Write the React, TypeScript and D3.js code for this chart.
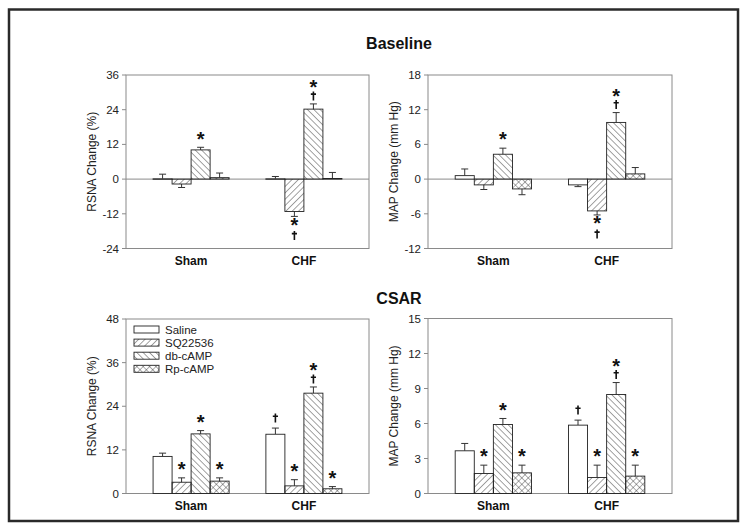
import React from "react";
import * as d3 from "d3";

const groups = ["Sham", "CHF"];
const seriesNames = ["Saline", "SQ22536", "db-cAMP", "Rp-cAMP"];

// order: Sham (Saline, SQ22536, db-cAMP, Rp-cAMP), CHF (same)
const rsnaBaseMean = [0.1, -1.7, 10.1, 0.5, 0.1, -11.2, 24.2, 0.2];
const rsnaBaseErr = [1.6, 1.2, 0.9, 1.6, 0.8, 1.7, 1.8, 2.1];
const rsnaBaseStar = [0, 0, 1, 0, 0, 1, 1, 0];
const rsnaBaseDagger = [0, 0, 0, 0, 0, 1, 1, 0];
const rsnaBaseTicks = [-24, -12, 0, 12, 24, 36];

const mapBaseMean = [0.6, -1.0, 4.3, -1.7, -1.0, -5.5, 9.8, 0.9];
const mapBaseErr = [1.15, 0.8, 1.05, 1.0, 0.3, 0.7, 1.7, 1.1];
const mapBaseStar = [0, 0, 1, 0, 0, 1, 1, 0];
const mapBaseDagger = [0, 0, 0, 0, 0, 1, 1, 0];
const mapBaseTicks = [-12, -6, 0, 6, 12, 18];

const rsnaCsarMean = [10.2, 3.1, 16.4, 3.4, 16.3, 2.1, 27.6, 1.3];
const rsnaCsarErr = [0.9, 1.2, 0.9, 0.9, 1.7, 1.7, 1.7, 0.6];
const rsnaCsarStar = [0, 1, 1, 1, 0, 1, 1, 1];
const rsnaCsarDagger = [0, 0, 0, 0, 1, 0, 1, 0];
const rsnaCsarTicks = [0, 12, 24, 36, 48];

const mapCsarMean = [3.66, 1.71, 5.91, 1.77, 5.86, 1.37, 8.49, 1.49];
const mapCsarErr = [0.63, 0.72, 0.52, 0.66, 0.43, 1.06, 1.02, 0.94];
const mapCsarStar = [0, 1, 1, 1, 0, 1, 1, 1];
const mapCsarDagger = [0, 0, 0, 0, 1, 0, 1, 0];
const mapCsarTicks = [0, 3, 6, 9, 12, 15];

const FONT = "Arial, 'Liberation Sans', Helvetica, sans-serif";
const fills = ["#ffffff", "url(#pSlash)", "url(#pBack)", "url(#pCross)"];

function Panel(props: any) {
  const { x0, x1, y0, y1, ticks, mean, err, star, dagger, yLabel, zero, legend } = props;
  const y = d3.scaleLinear().domain([ticks[0], ticks[ticks.length - 1]]).range([y1, y0]);
  const xg = d3.scaleBand().domain(groups).range([x0, x1]).paddingInner(0.326).paddingOuter(0.24);
  const xs = d3.scaleBand().domain(seriesNames).range([0, xg.bandwidth()]);
  const bars: any[] = [];
  groups.forEach((g, gi) => {
    seriesNames.forEach((s, si) => {
      const i = gi * 4 + si;
      const v = mean[i];
      const e = err[i];
      const bx = (xg(g) as number) + (xs(s) as number);
      const bw = xs.bandwidth();
      const cx = bx + bw / 2;
      const top = y(Math.max(0, v));
      const bot = y(Math.min(0, v));
      const end = v >= 0 ? y(v + e) : y(v - e);
      const base = y(v);
      const ann: any[] = [];
      if (v >= 0) {
        if (star[i] && dagger[i]) {
          ann.push({ t: "*", c: end - 18 });
          ann.push({ t: "d", c: end - 8 });
        } else if (star[i]) ann.push({ t: "*", c: end - 10 });
        else if (dagger[i]) ann.push({ t: "d", c: end - 10 });
      } else {
        if (star[i]) ann.push({ t: "*", c: end + 7 });
        if (dagger[i]) ann.push({ t: "d", c: end + 19 });
      }
      bars.push(
        <g key={i}>
          <line x1={cx} x2={cx} y1={base} y2={end} stroke="#333" strokeWidth={1} />
          <line x1={cx - 3.5} x2={cx + 3.5} y1={end} y2={end} stroke="#333" strokeWidth={1} />
          <rect x={bx} y={top} width={bw} height={Math.max(0.5, bot - top)} fill={fills[si]} stroke="#222" strokeWidth={0.9} />
          {ann.map((a, k) =>
            a.t === "*" ? (
              <text key={k} x={cx} y={a.c + 8.3} textAnchor="middle" fontSize={20} fontWeight="bold" fontFamily={FONT} fill="#111">*</text>
            ) : (
              <path key={k} d={`M${cx},${a.c - 4.5}V${a.c + 4.5}M${cx - 2.6},${a.c - 1.8}H${cx + 2.6}`} stroke="#111" strokeWidth={1.6} fill="none" />
            )
          )}
        </g>
      );
    });
  });
  return (
    <g>
      <rect x={x0} y={y0} width={x1 - x0} height={y1 - y0} fill="none" stroke="#8a8a8a" strokeWidth={1} />
      {zero && <line x1={x0} x2={x1} y1={y(0)} y2={y(0)} stroke="#8a8a8a" strokeWidth={1} />}
      {ticks.map((t: number) => (
        <g key={t}>
          <line x1={x0 - 4} x2={x0} y1={y(t)} y2={y(t)} stroke="#8a8a8a" strokeWidth={1} />
          <text x={x0 - 7} y={y(t) + 4} textAnchor="end" fontSize={11.5} fontFamily={FONT} fill="#222">{t}</text>
        </g>
      ))}
      <text transform={`translate(${x0 - 30},${(y0 + y1) / 2}) rotate(-90)`} textAnchor="middle" fontSize={12} fontFamily={FONT} fill="#222">{yLabel}</text>
      {groups.map((g) => (
        <text key={g} x={(xg(g) as number) + xg.bandwidth() / 2} y={y1 + 16.5} textAnchor="middle" fontSize={12} fontWeight="bold" fontFamily={FONT} fill="#111">{g}</text>
      ))}
      {bars}
      {legend &&
        seriesNames.map((s, si) => (
          <g key={s}>
            <rect x={x0 + 8} y={y0 + 7 + si * 13.1} width={25} height={7} fill={fills[si]} stroke="#222" strokeWidth={0.9} />
            <text x={x0 + 39} y={y0 + 14.5 + si * 13.1} fontSize={11.5} fontFamily={FONT} fill="#222">{s}</text>
          </g>
        ))}
    </g>
  );
}

export default function App() {
  return (
    <svg width={748} height={531} style={{ position: "absolute", left: 0, top: 0, background: "#fff" }}>
      <defs>
        <pattern id="pSlash" patternUnits="userSpaceOnUse" width={4.5} height={4.5} patternTransform="rotate(45)">
          <line x1={0} y1={0} x2={0} y2={4.5} stroke="#333" strokeWidth={0.9} />
        </pattern>
        <pattern id="pBack" patternUnits="userSpaceOnUse" width={4.5} height={4.5} patternTransform="rotate(-45)">
          <line x1={0} y1={0} x2={0} y2={4.5} stroke="#333" strokeWidth={0.9} />
        </pattern>
        <pattern id="pCross" patternUnits="userSpaceOnUse" width={4.5} height={4.5} patternTransform="rotate(45)">
          <line x1={0} y1={0} x2={0} y2={4.5} stroke="#333" strokeWidth={0.8} />
          <line x1={0} y1={0} x2={4.5} y2={0} stroke="#333" strokeWidth={0.8} />
        </pattern>
      </defs>
      <rect x={0} y={0} width={748} height={531} fill="#fff" />
      <rect x={9} y={9.5} width={729} height={511.5} fill="none" stroke="#2a2a2a" strokeWidth={2.5} />
      <text x={399} y={48.5} textAnchor="middle" fontSize={16} fontWeight="bold" fontFamily={FONT} fill="#111">Baseline</text>
      <text x={399} y={304} textAnchor="middle" fontSize={16} fontWeight="bold" fontFamily={FONT} fill="#111">CSAR</text>
      <Panel x0={126} x1={369} y0={75} y1={248.5} ticks={rsnaBaseTicks} mean={rsnaBaseMean} err={rsnaBaseErr} star={rsnaBaseStar} dagger={rsnaBaseDagger} yLabel="RSNA Change (%)" zero />
      <Panel x0={428} x1={672} y0={75} y1={248.5} ticks={mapBaseTicks} mean={mapBaseMean} err={mapBaseErr} star={mapBaseStar} dagger={mapBaseDagger} yLabel="MAP Change (mm Hg)" zero />
      <Panel x0={126} x1={369} y0={319} y1={493.5} ticks={rsnaCsarTicks} mean={rsnaCsarMean} err={rsnaCsarErr} star={rsnaCsarStar} dagger={rsnaCsarDagger} yLabel="RSNA Change (%)" legend />
      <Panel x0={428} x1={672} y0={318.5} y1={493.5} ticks={mapCsarTicks} mean={mapCsarMean} err={mapCsarErr} star={mapCsarStar} dagger={mapCsarDagger} yLabel="MAP Change (mm Hg)" />
    </svg>
  );
}
